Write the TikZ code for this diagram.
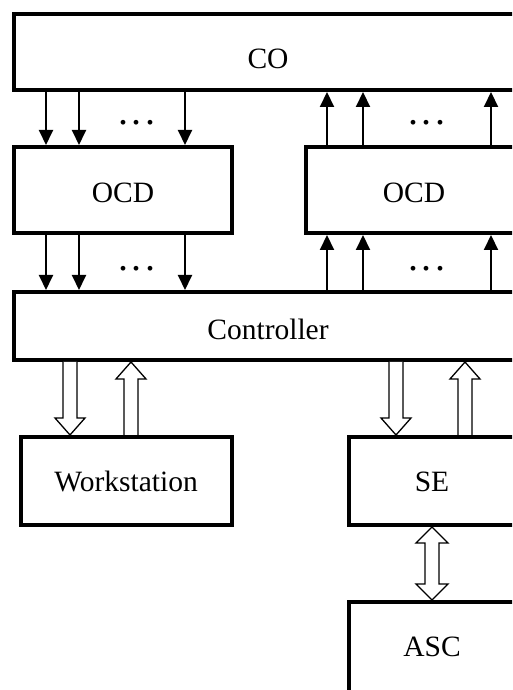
\documentclass[tikz,border=0pt]{standalone}
\usepackage{fontspec}
\setmainfont{Liberation Serif}
\usetikzlibrary{arrows.meta,calc}
\tikzset{
  box/.style={draw, line width=4pt, inner sep=0pt, fill=white},
  lbl/.style={inner sep=0pt, anchor=base, font=\fontsize{29.5}{35}\selectfont},
  dotslbl/.style={inner sep=0pt, anchor=base, font=\fontsize{40}{40}\selectfont},
  thin/.style={line width=2pt, -{Triangle[width=14pt,length=15pt]}},
  hollow/.style={draw, line width=1.3pt, fill=white, line join=miter},
}
\newcommand\harrowdown[3]{\draw[hollow] let \p1=(#2),\p2=(#3) in
  (#1-7,\y1) -- (#1-7,\y2+17) -- (#1-15,\y2+17) -- (#1,\y2) -- (#1+15,\y2+17) -- (#1+7,\y2+17) -- (#1+7,\y1);}
\newcommand\harrowup[3]{\draw[hollow] let \p1=(#2),\p2=(#3) in
  (#1-7,\y1) -- (#1-7,\y2-17) -- (#1-15,\y2-17) -- (#1,\y2) -- (#1+15,\y2-17) -- (#1+7,\y2-17) -- (#1+7,\y1);}
\newcommand\harrowboth[3]{\draw[hollow] let \p1=(#2),\p2=(#3) in
  (#1,\y1) -- (#1+16,\y1-16) -- (#1+7,\y1-16) -- (#1+7,\y2+16) -- (#1+16,\y2+16) -- (#1,\y2)
  -- (#1-16,\y2+16) -- (#1-7,\y2+16) -- (#1-7,\y1-16) -- (#1-16,\y1-16) -- cycle;}
\newcommand\threedots{.\hspace{3.5pt}.\hspace{3.5pt}.}
\begin{document}
\begin{tikzpicture}[x=1pt,y=1pt]
\useasboundingbox (0,0) rectangle (512,690);
\clip (0,0) rectangle (512,690);
% boxes
\node[box, minimum width=508pt, minimum height=76pt] (co) at (268,638) {};
\node[box, minimum width=218pt, minimum height=86pt] (ocdl) at (123,500) {};
\node[box, minimum width=216pt, minimum height=86pt] (ocdr) at (414,500) {};
\node[box, minimum width=508pt, minimum height=68pt] (ctrl) at (268,364) {};
\node[box, minimum width=211pt, minimum height=88pt] (ws) at (126,209) {};
\node[box, minimum width=166pt, minimum height=88pt] (se) at (432,209) {};
\node[box, minimum width=166pt, minimum height=100pt] (asc) at (432,38) {};
% labels
\node[lbl] (co-t) at (268,621) {CO};
\node[lbl] (ocdl-t) at (123,487) {OCD};
\node[lbl] (ocdr-t) at (414,487) {OCD};
\node[lbl] (ctrl-t) at (268,350) {Controller};
\node[lbl] (ws-t) at (126,198) {Workstation};
\node[lbl] (se-t) at (432,198) {SE};
\node[lbl] (asc-t) at (432,33) {ASC};
% dots
\node[dotslbl] (d1) at (137,565.5) {\threedots};
\node[dotslbl] (d2) at (427,565.5) {\threedots};
\node[dotslbl] (d3) at (137,419.5) {\threedots};
\node[dotslbl] (d4) at (427,419.5) {\threedots};
% thin arrows, left (down)
\foreach \x in {46,79,185} {
  \draw[thin] (\x,0 |- co.south) -- (\x,0 |- ocdl.north);
  \draw[thin] (\x,0 |- ocdl.south) -- (\x,0 |- ctrl.north);
}
% thin arrows, right (up)
\foreach \x in {327,363,491} {
  \draw[thin] (\x,0 |- ocdr.north) -- (\x,0 |- co.south);
  \draw[thin] (\x,0 |- ctrl.north) -- (\x,0 |- ocdr.south);
}
% hollow arrows
\harrowdown{70}{ctrl.south}{ws.north}
\harrowup{131}{ws.north}{ctrl.south}
\harrowdown{396}{ctrl.south}{se.north}
\harrowup{465}{se.north}{ctrl.south}
\harrowboth{432}{se.south}{asc.north}
\end{tikzpicture}
\end{document}
